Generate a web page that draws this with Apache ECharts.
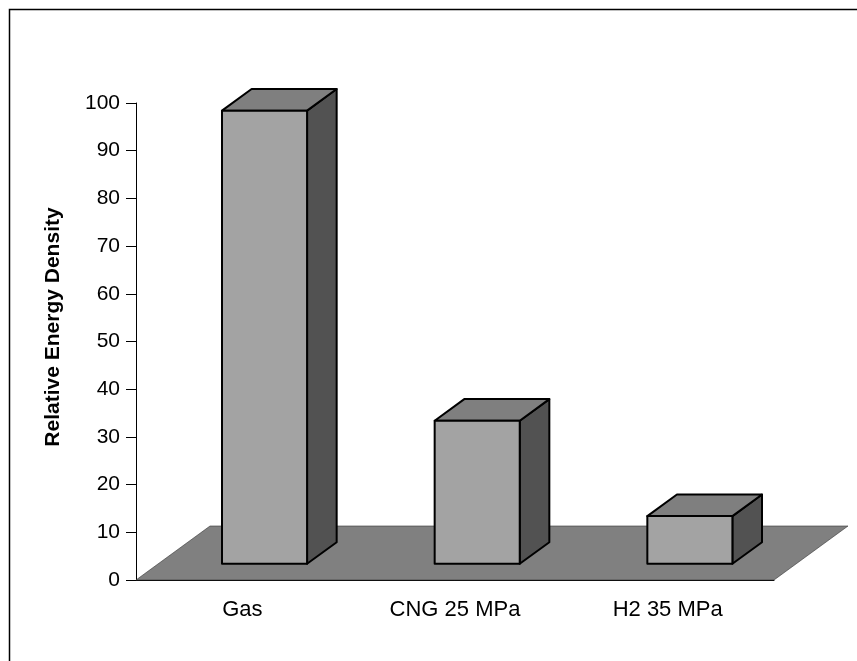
<!DOCTYPE html>
<html>
<head>
<meta charset="utf-8">
<script src="https://cdn.jsdelivr.net/npm/echarts@6/dist/echarts.min.js"></script>
<style>
  html, body { margin: 0; padding: 0; background: #fff; }
  #chart { width: 857px; height: 661px; }
</style>
</head>
<body>
<div id="chart"></div>
<script>
// Data
const categories = ['Gas', 'CNG 25 MPa', 'H2 35 MPa'];
const values = [95, 30, 10];
const yTicks = { min: 0, max: 100, interval: 10 };

// 3D look (pixels)
const FLOOR_DX = 74, FLOOR_DY = -54;
const FRONT_F = 0.3, BACK_F = 0.7;   // bar sits between these depth fractions
const BAR_W = 0.4;                   // share of the category band
const FONT = '"Liberation Sans", Arial, sans-serif';

const chart = echarts.init(document.getElementById('chart'), null, { renderer: 'canvas' });

function renderFloor(params, api) {
  const band = api.size([1, 0])[0];
  const p0 = api.coord([0, 0]);
  const p1 = api.coord([categories.length - 1, 0]);
  const x0 = p0[0] - band / 2, x1 = p1[0] + band / 2, y = p0[1];
  return {
    type: 'polygon',
    shape: { points: [[x0, y], [x1, y], [x1 + FLOOR_DX, y + FLOOR_DY], [x0 + FLOOR_DX, y + FLOOR_DY]] },
    style: { fill: '#808080', stroke: '#333', lineWidth: 0.6 }
  };
}

function renderBar(params, api) {
  const band = api.size([1, 0])[0];
  const base = api.coord([api.value(0), 0]);
  const top = api.coord([api.value(0), api.value(1)]);
  const w = band * BAR_W;
  const fx = FLOOR_DX * FRONT_F, fy = FLOOR_DY * FRONT_F;
  const dx = FLOOR_DX * (BACK_F - FRONT_F), dy = FLOOR_DY * (BACK_F - FRONT_F);
  const l = base[0] + fx - w / 2, r = base[0] + fx + w / 2;
  const b = base[1] + fy, t = top[1] + fy;
  const line = { stroke: '#000', lineWidth: 2, lineJoin: 'round' };
  return {
    type: 'group',
    children: [
      { type: 'polygon', shape: { points: [[r, b], [r + dx, b + dy], [r + dx, t + dy], [r, t]] },
        style: Object.assign({ fill: '#525252' }, line) },
      { type: 'polygon', shape: { points: [[l, t], [r, t], [r + dx, t + dy], [l + dx, t + dy]] },
        style: Object.assign({ fill: '#7f7f7f' }, line) },
      { type: 'rect', shape: { x: l, y: t, width: w, height: b - t },
        style: Object.assign({ fill: '#a3a3a3' }, line) }
    ]
  };
}

chart.setOption({
  animation: false,
  grid: { left: 136, right: 83, top: 103, bottom: 81 },
  xAxis: {
    type: 'category',
    data: categories,
    axisLine: { lineStyle: { color: '#000', width: 1 } },
    axisTick: { length: 8, lineStyle: { color: '#000' } },
    axisLabel: { color: '#000', fontSize: 22, fontFamily: FONT, margin: 19 }
  },
  yAxis: {
    type: 'value',
    min: yTicks.min, max: yTicks.max, interval: yTicks.interval,
    axisLine: { show: true, lineStyle: { color: '#000', width: 1 } },
    axisTick: { show: true, length: 10, lineStyle: { color: '#000' } },
    axisLabel: { color: '#000', fontSize: 21, fontFamily: FONT, margin: 16 },
    splitLine: { show: false }
  },
  graphic: [
    { type: 'polyline', shape: { points: [[9.5, 670], [9.5, 9.5], [870, 9.5]] },
      style: { stroke: '#000', lineWidth: 1.5, fill: null } },
    { type: 'text', x: 53, y: 327, rotation: Math.PI / 2,
      style: { text: 'Relative Energy Density', fill: '#000', align: 'center', verticalAlign: 'middle',
        font: 'bold 21px ' + FONT } }
  ],
  series: [
    { type: 'custom', renderItem: renderFloor, data: [[0, 0]], z: 1, silent: true },
    { type: 'custom', renderItem: renderBar, data: values.map((v, i) => [i, v]), z: 2,
      encode: { x: 0, y: 1 } }
  ]
});
</script>
</body>
</html>
